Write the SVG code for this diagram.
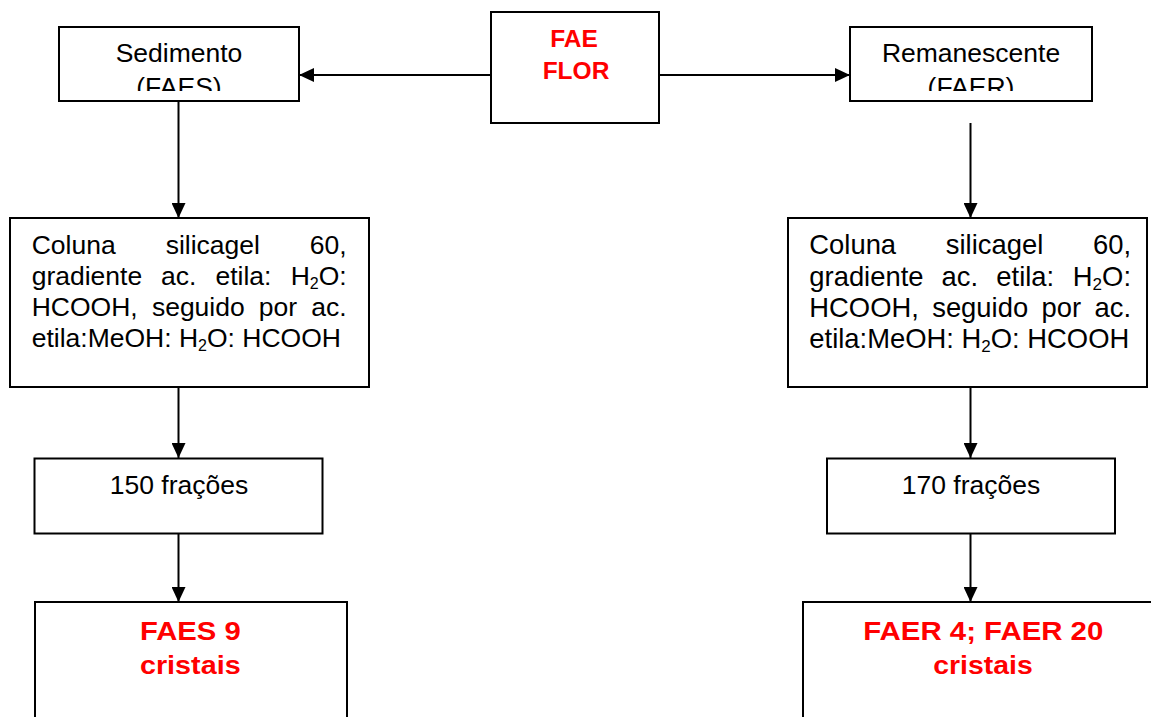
<svg xmlns="http://www.w3.org/2000/svg" width="1151" height="717" viewBox="0 0 1151 717">
<style>
.box{fill:#fff;stroke:#000;stroke-width:2}
.t{font-family:"Liberation Sans",Arial,sans-serif;font-size:26.5px;fill:#000}
.tr{font-family:"Liberation Sans",Arial,sans-serif;font-size:27.4px;fill:#000}
.red{font-family:"Liberation Sans",Arial,sans-serif;font-weight:bold;fill:#ff0000;text-anchor:middle}
.c{text-anchor:middle}
.e{text-anchor:end}
.conn{stroke:#000;stroke-width:2;fill:none}
</style>
<defs>
<marker id="ah" markerUnits="userSpaceOnUse" markerWidth="15" markerHeight="14" refX="15" refY="7" orient="auto">
<path d="M0,0 L15,7 L0,14 z" fill="#000"/>
</marker>
<clipPath id="clipS"><rect x="59" y="27" width="240" height="64"/></clipPath>
<clipPath id="clipR"><rect x="850" y="27" width="242" height="64"/></clipPath>
</defs>
<rect width="1151" height="717" fill="#fff"/>

<g id="connectors">
<line class="conn" x1="491" y1="75" x2="299" y2="75" marker-end="url(#ah)"/>
<line class="conn" x1="659" y1="75" x2="850" y2="75" marker-end="url(#ah)"/>
<line class="conn" x1="178.5" y1="98" x2="178.5" y2="218" marker-end="url(#ah)"/>
<line class="conn" x1="970.5" y1="123" x2="970.5" y2="218" marker-end="url(#ah)"/>
<line class="conn" x1="178.5" y1="387" x2="178.5" y2="458" marker-end="url(#ah)"/>
<line class="conn" x1="970.5" y1="387" x2="970.5" y2="458" marker-end="url(#ah)"/>
<line class="conn" x1="178.5" y1="530" x2="178.5" y2="602" marker-end="url(#ah)"/>
<line class="conn" x1="970.5" y1="530" x2="970.5" y2="602" marker-end="url(#ah)"/>
</g>

<g id="fae">
<rect class="box" x="491" y="12" width="168" height="111"/>
<text class="red" x="574" y="47" font-size="24.5">FAE</text>
<text class="red" x="576" y="79" font-size="24.5">FLOR</text>
</g>

<g id="sedimento">
<rect class="box" x="59" y="27" width="240" height="74"/>
<g clip-path="url(#clipS)">
<text class="t c" x="179" y="62">Sedimento</text>
<text class="t c" x="179" y="96">(FAES)</text>
</g>
</g>

<g id="remanescente">
<rect class="box" x="850" y="27" width="242" height="74"/>
<g clip-path="url(#clipR)">
<text class="t c" x="971" y="62">Remanescente</text>
<text class="t c" x="971" y="96">(FAER)</text>
</g>
</g>

<g id="coluna-left">
<rect class="box" x="10" y="218" width="359" height="169"/>
<text class="t" x="31.7" y="254">Coluna</text>
<text class="t" x="165.7" y="254">silicagel</text>
<text class="t e" x="346.7" y="254">60,</text>
<text class="t" x="31.7" y="285">gradiente</text>
<text class="t" x="161.1" y="285">ac.</text>
<text class="t" x="215.4" y="285">etila:</text>
<text class="t e" x="346.7" y="285">H<tspan dy="4" font-size="16">2</tspan><tspan dy="-4">O:</tspan></text>
<text class="t" x="31.7" y="315.5">HCOOH,</text>
<text class="t" x="151.9" y="315.5">seguido</text>
<text class="t" x="258.8" y="315.5">por</text>
<text class="t e" x="346.7" y="315.5">ac.</text>
<text class="t" x="31.7" y="347">etila:MeOH: H<tspan dy="4" font-size="16">2</tspan><tspan dy="-4">O: HCOOH</tspan></text>
</g>

<g id="coluna-right">
<rect class="box" x="788" y="218" width="359" height="169"/>
<text class="tr" x="809.3" y="254">Coluna</text>
<text class="tr" x="945.8" y="254">silicagel</text>
<text class="tr e" x="1131" y="254">60,</text>
<text class="tr" x="809.3" y="286">gradiente</text>
<text class="tr" x="941.6" y="286">ac.</text>
<text class="tr" x="996.3" y="286">etila:</text>
<text class="tr e" x="1131" y="286">H<tspan dy="4" font-size="17">2</tspan><tspan dy="-4">O:</tspan></text>
<text class="tr" x="809.3" y="316.7">HCOOH,</text>
<text class="tr" x="932.2" y="316.7">seguido</text>
<text class="tr" x="1041.5" y="316.7">por</text>
<text class="tr e" x="1131" y="316.7">ac.</text>
<text class="tr" x="809.3" y="348">etila:MeOH: H<tspan dy="4" font-size="17">2</tspan><tspan dy="-4">O: HCOOH</tspan></text>
</g>

<g id="fracoes-150">
<rect class="box" x="34.5" y="458.5" width="288" height="75"/>
<text class="t c" x="179" y="494">150 frações</text>
</g>

<g id="fracoes-170">
<rect class="box" x="827" y="458.5" width="288" height="75"/>
<text class="t c" x="971" y="494">170 frações</text>
</g>

<g id="faes9">
<rect class="box" x="35" y="602" width="312" height="140"/>
<text class="red" x="190.3" y="640" font-size="26" textLength="100.7" lengthAdjust="spacingAndGlyphs">FAES 9</text>
<text class="red" x="190.3" y="674" font-size="26" textLength="100.7" lengthAdjust="spacingAndGlyphs">cristais</text>
</g>

<g id="faer">
<rect class="box" x="803" y="602" width="362" height="140"/>
<text class="red" x="983.3" y="639.5" font-size="26" textLength="240" lengthAdjust="spacingAndGlyphs">FAER 4; FAER 20</text>
<text class="red" x="983" y="673.5" font-size="26" textLength="99.4" lengthAdjust="spacingAndGlyphs">cristais</text>
</g>
</svg>
